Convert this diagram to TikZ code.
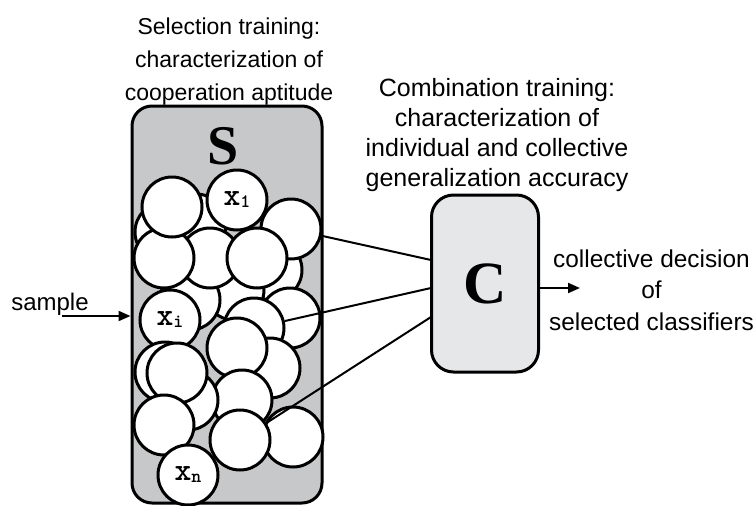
\documentclass[tikz,border=0pt]{standalone}
\usepackage{fontspec}
\setmainfont{Liberation Sans}
\newfontfamily\lserif{Liberation Serif}
\newfontfamily\xmono{Latin Modern Mono Light}
\usetikzlibrary{arrows.meta}
\newcommand{\xlab}[1]{{\xmono\bfseries\fontsize{32}{32}\selectfont x\raisebox{-2pt}{\fontsize{19}{19}\selectfont #1}}}
\definecolor{sgray}{HTML}{C7C8CA}
\definecolor{cgray}{HTML}{E6E7E8}
\begin{document}
\begin{tikzpicture}[x=1pt,y=-1pt,
  circ/.style={circle,draw=black,fill=white,line width=3pt,minimum size=60pt,inner sep=0pt},
  boxS/.style={draw=black,fill=sgray,line width=3pt,rounded corners=20pt,inner sep=0pt},
  boxC/.style={draw=black,fill=cgray,line width=3pt,rounded corners=22pt,inner sep=0pt},
  lbl/.style={align=center,font=\fontsize{23}{33}\selectfont,inner sep=0pt},
  conn/.style={line width=2pt},
  arr/.style={line width=2pt,-{Triangle[length=12pt,width=10pt]}}]
\useasboundingbox (0,0) rectangle (755,506);
% texts (anchor base = baseline of last line)
\node[lbl,anchor=base] (tsel) at (229,100) {Selection training:\\characterization of\\cooperation aptitude};
\node[lbl,anchor=base,font=\fontsize{25}{30}\selectfont] (tcomb) at (497,186) {Combination training:\\characterization of\\individual and collective\\generalization accuracy};
\node[lbl,anchor=base,font=\fontsize{24.4}{31.5}\selectfont] (tout) at (651.5,330) {collective decision\\of\\selected classifiers};
\node[lbl,anchor=base,font=\fontsize{24}{30}\selectfont] (tsample) at (50,310) {sample};
% boxes
\node[boxS,minimum width=190pt,minimum height=397pt] (Sbox) at (227,304.5) {};
\node[boxC,minimum width=107pt,minimum height=177pt] (Cbox) at (485,283.5) {};
\node[inner sep=0pt,font=\lserif\bfseries\fontsize{56}{56}\selectfont] (Slet) at (223,146) {S};
\node[inner sep=0pt,font=\lserif\bfseries\fontsize{60}{60}\selectfont] (Clet) at (485,284) {C};
% circles, back to front
\node[circ] (b1) at (165,232) {};
\node[circ] (b2) at (196,224) {};
\node[circ] (b3) at (272,270) {};
\node[circ] (b4) at (234,290) {};
\node[circ] (b5) at (190,300) {};
\node[circ] (D) at (291,229) {};
\node[circ] (E) at (210,258) {};
\node[circ] (F) at (257,258) {};
\node[circ] (C) at (164,258) {};
\node[circ] (A) at (172,207) {};
\node[circ] (X1) at (237,200) {\xlab{1}};
\node[circ] (S1) at (290,318) {};
\node[circ] (S2) at (254,328) {};
\node[circ] (Xi) at (170,320) {\xlab{i}};
\node[circ] (H) at (270,368) {};
\node[circ] (G) at (237,348) {};
\node[circ] (M) at (165,372) {};
\node[circ] (W) at (242,400) {};
\node[circ] (b6) at (188,400) {};
\node[circ] (L) at (177,373) {};
\node[circ] (N) at (164,425) {};
\node[circ] (K) at (293,437) {};
\node[circ] (J) at (240,440) {};
\node[circ] (Xn) at (188,475) {\xlab{n}};
% connectors
\coordinate (c1) at (431,260);
\coordinate (c2) at (431,288);
\coordinate (c3) at (431,317);
\draw[conn] (D) -- (c1);
\draw[conn] (S2) -- (c2);
\draw[conn] (J) -- (c3);
\coordinate (sin) at (62,316);
\draw[arr] (sin) -- (Sbox.west |- sin);
\coordinate (outp) at (580,288);
\draw[arr] (Cbox.east |- outp) -- (outp);
\end{tikzpicture}
\end{document}
